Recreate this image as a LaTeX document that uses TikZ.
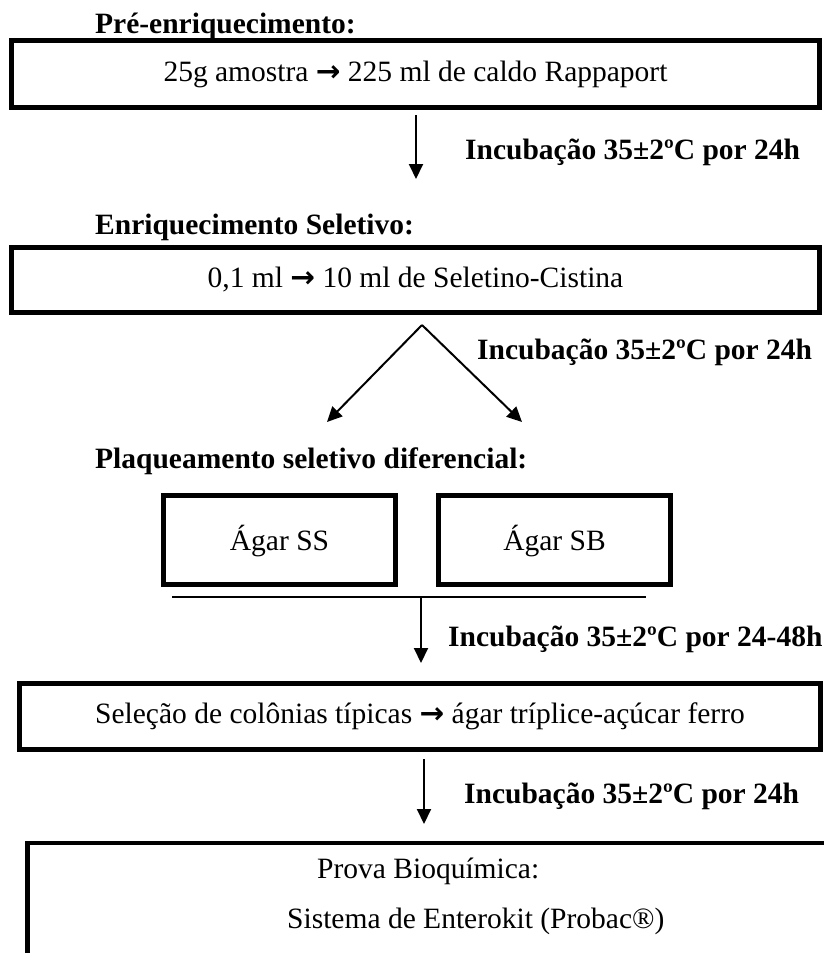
\documentclass[tikz,border=0pt]{standalone}
\usepackage{fontspec}
\setmainfont{Liberation Serif}
\newfontfamily\arrowfont{DejaVu Sans}
\usetikzlibrary{arrows.meta}
\newcommand{\rarr}{{\arrowfont\bfseries\char"2192}}
\tikzset{
  txt/.style={inner sep=0pt, font=\fontsize{29.5}{32}\selectfont},
  ttl/.style={inner sep=0pt, font=\fontsize{29.5}{32}\selectfont\bfseries},
  boxstyle/.style={draw, line width=4.8pt, inner sep=0pt, text height=21pt, text depth=7pt,
    font=\fontsize{29.5}{32}\selectfont},
  flow/.style={line width=2pt, -{Triangle[length=15pt,width=14pt]}}
}
\begin{document}
\begin{tikzpicture}[x=1pt,y=-1pt]
\useasboundingbox (0,0) rectangle (824,953);
\clip (0,0) rectangle (824,953);
% Stage 1
\node[ttl, anchor=base west] (t1) at (95,33) {Pré-enriquecimento:};
\node[boxstyle, minimum width=808pt, minimum height=67pt] (b1) at (415.5,74) {25g amostra \rarr{} 225 ml de caldo Rappaport};
\coordinate (a1s) at (416,115);
\coordinate (a1e) at (416,179);
\draw[flow] (a1s) -- (a1e);
\node[ttl, anchor=base west] (l1) at (465,159) {Incubação 35±2ºC por 24h};
% Stage 2
\node[ttl, anchor=base west] (t2) at (95,234) {Enriquecimento Seletivo:};
\node[boxstyle, minimum width=808pt, minimum height=65pt] (b2) at (415.5,280) {0,1 ml \rarr{} 10 ml de Seletino-Cistina};
\coordinate (apex) at (422,325);
\coordinate (el) at (327,422);
\coordinate (er) at (522,422);
\draw[flow] (apex) -- (el);
\draw[flow] (apex) -- (er);
\node[ttl, anchor=base west] (l2) at (477,359) {Incubação 35±2ºC por 24h};
% Stage 3
\node[ttl, anchor=base west] (t3) at (95,468) {Plaqueamento seletivo diferencial:};
\node[boxstyle, minimum width=232pt, minimum height=89pt, text height=23pt, text depth=3pt] (ss) at (279.5,540) {Ágar SS};
\node[boxstyle, minimum width=232pt, minimum height=89pt, text height=23pt, text depth=3pt] (sb) at (554.5,540) {Ágar SB};
\coordinate (hl) at (172,597);
\coordinate (hr) at (646,597);
\draw[line width=1.3pt] (hl) -- (hr);
\coordinate (a2s) at (421,597);
\coordinate (a2e) at (421,663);
\draw[flow] (a2s) -- (a2e);
\node[ttl, anchor=base west] (l3) at (448,646) {Incubação 35±2ºC por 24-48h};
% Stage 4
\node[boxstyle, minimum width=801pt, minimum height=66pt] (b4) at (420,716.5) {Seleção de colônias típicas \rarr{} ágar tríplice-açúcar ferro};
\coordinate (a3s) at (424,759);
\coordinate (a3e) at (424,824);
\draw[flow] (a3s) -- (a3e);
\node[ttl, anchor=base west] (l4) at (464,803) {Incubação 35±2ºC por 24h};
% Stage 5 (open box, cut by the picture's edges)
\node[boxstyle, minimum width=900pt, minimum height=300pt, anchor=north west] (b5) at (25,840.5) {};
\node[txt, anchor=base west] (p1) at (317,878) {Prova Bioquímica:};
\node[txt, anchor=base west] (p2) at (287,928) {Sistema de Enterokit (Probac®)};
\end{tikzpicture}
\end{document}
